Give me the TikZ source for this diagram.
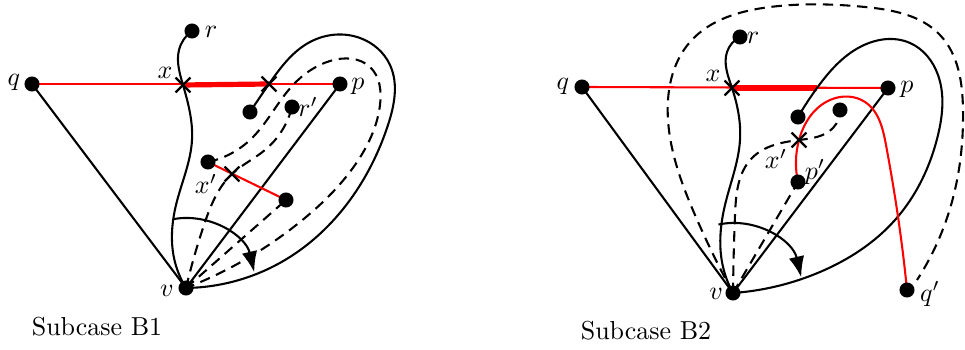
\documentclass[tikz,border=0pt]{standalone}
\usetikzlibrary{arrows.meta,shapes.misc,calc,hobby}
\begin{document}
\begin{tikzpicture}[x=0.385pt,y=-0.385pt, line width=0.8pt, use Hobby shortcut,
  dot/.style={circle,fill,inner sep=0pt,minimum size=5.8pt},
  crs/.style={cross out,draw,inner sep=0pt,minimum size=4.8pt,line width=0.9pt},
  dsh/.style={dash pattern=on 4pt off 2.6pt},
  redthin/.style={red,line width=0.8pt},
  redthick/.style={red,line width=2pt},
  lbl/.style={inner sep=0pt},
  arcarrow/.style={-{Latex[length=8pt,width=6pt]}}]
\useasboundingbox (0,0) rectangle (965,350);

% ---------------- Subcase B1 ----------------
\coordinate (qL) at (32,84);
\coordinate (rL) at (192,31);
\coordinate (pL) at (340,84);
\coordinate (xL) at (183,85);
\coordinate (yL) at (269,84);
\coordinate (vL) at (186,288);
\coordinate (aL) at (250,112);
\coordinate (rpL) at (292,107);
\coordinate (xpL) at (208,162);
\coordinate (bL) at (286,200);
\coordinate (cL) at (232,174);

\draw[redthin] (qL) -- (pL);
\draw[redthick] (xL) -- (yL);
\draw (qL) -- (vL);
\draw (vL) -- (pL);
\draw (rL) .. (179,50) .. (xL) .. (192,140) .. (176,205) .. (174,258) .. (vL);
\draw (aL) .. (yL) .. (310,42) .. (360,38) .. (390,65) .. (388,125) .. (350,200) .. (285,260) .. (vL);
\draw[dsh] (xpL) .. (250,140) .. (293,85) .. (330,61) .. (370,67) .. (380,105) .. (355,165) .. (300,222) .. (vL);
\draw[dsh] (vL) .. (204,225) .. (cL) .. (265,150) .. (rpL);
\draw[dsh] (vL) -- (bL);
\draw[redthin] (xpL) -- (bL);
\draw[arcarrow] ($(vL)+(-100:70)$) arc[start angle=-100,end angle=-13,radius=70];

\node[dot] (qLd) at (qL) {};
\node[dot] (rLd) at (rL) {};
\node[dot] (pLd) at (pL) {};
\node[dot] (vLd) at (vL) {};
\node[dot] (aLd) at (aL) {};
\node[dot] (rpLd) at (rpL) {};
\node[dot] (xpLd) at (xpL) {};
\node[dot] (bLd) at (bL) {};
\node[crs] (xLc) at (xL) {};
\node[crs] (yLc) at (yL) {};
\node[crs] (cLc) at (cL) {};

\node[lbl] (qLl) at (14,82) {$q$};
\node[lbl] (rLl) at (211,32) {$r$};
\node[lbl] (pLl) at (358,86) {$p$};
\node[lbl] (xLl) at (165,73) {$x$};
\node[lbl] (rpLl) at (308,107) {$r'$};
\node[lbl] (xpLl) at (206,184) {$x'$};
\node[lbl] (vLl) at (167,291) {$v$};

% ---------------- Subcase B2 ----------------
\coordinate (qR) at (582,87);
\coordinate (rR) at (740,37);
\coordinate (pR) at (888,88);
\coordinate (xR) at (732,88);
\coordinate (yR) at (817,88);
\coordinate (vR) at (733,293);
\coordinate (aR) at (798,117);
\coordinate (rpR) at (840,110);
\coordinate (xpR) at (799,140);
\coordinate (ppR) at (798,182);
\coordinate (qpR) at (907,290);

\draw[redthin] (qR) -- (pR);
\draw[redthick] (xR) -- (yR);
\draw (qR) -- (vR);
\draw (vR) -- (pR);
\draw (rR) .. (727,52) .. (xR) .. (740,140) .. (725,205) .. (722,262) .. (vR);
\draw (aR) .. (yR) .. (860,47) .. (910,43) .. (938,75) .. (938,135) .. (895,220) .. (820,272) .. (vR);
\draw[redthin] (ppR) .. (xpR) .. (830,100) .. (865,102) .. (886,145) .. (897,210) .. (qpR);
\draw[dsh] (vR) .. (735,215) .. (752,158) .. (xpR) .. (833,128) .. (rpR);
\draw[dsh] (vR) -- (ppR);
\draw[dsh] (vR) .. (695,215) .. (668,120) .. (690,42) .. (770,7) .. (865,7) .. (940,35) .. (963,110) .. (948,215) .. (917,280);
\draw[arcarrow] ($(vR)+(-102:70)$) arc[start angle=-102,end angle=-13,radius=70];

\node[dot] (qRd) at (qR) {};
\node[dot] (rRd) at (rR) {};
\node[dot] (pRd) at (pR) {};
\node[dot] (vRd) at (vR) {};
\node[dot] (aRd) at (aR) {};
\node[dot] (rpRd) at (rpR) {};
\node[dot] (ppRd) at (ppR) {};
\node[dot] (qpRd) at (qpR) {};
\node[crs] (xRc) at (xR) {};
\node[crs] (xpRc) at (xpR) {};

\node[lbl] (qRl) at (563,86) {$q$};
\node[lbl] (rRl) at (753,38) {$r$};
\node[lbl] (pRl) at (907,89) {$p$};
\node[lbl] (xRl) at (713,76) {$x$};
\node[lbl] (xpRl) at (776,159) {$x'$};
\node[lbl] (ppRl) at (815,172) {$p'$};
\node[lbl] (vRl) at (716,294) {$v$};
\node[lbl] (qpRl) at (930,294) {$q'$};

% captions
\node[lbl] (capL) at (97,327) {Subcase B1};
\node[lbl] (capR) at (646,331) {Subcase B2};
\end{tikzpicture}
\end{document}
